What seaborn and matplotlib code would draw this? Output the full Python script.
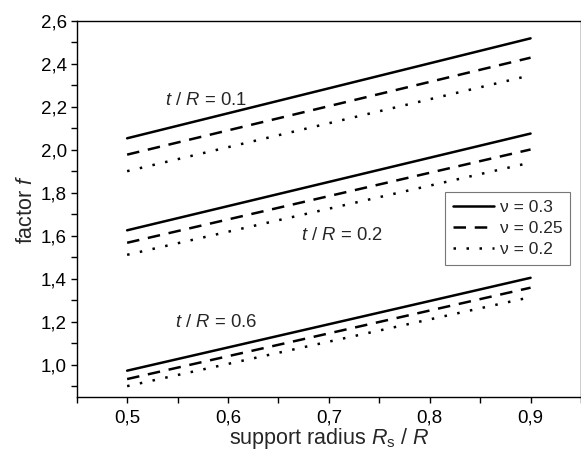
import numpy as np
import pandas as pd
import matplotlib
matplotlib.use("Agg")
import matplotlib.pyplot as plt
import seaborn as sns
from matplotlib.ticker import MultipleLocator, FuncFormatter

# data (values at x = 0.5 and x = 0.9)
x_pts = [0.5, 0.9]
t_over_R = ["0.1", "0.2", "0.6"]
nu_values = ["0.3", "0.25", "0.2"]
f_t01 = {"0.3": [2.053, 2.518], "0.25": [1.977, 2.428], "0.2": [1.900, 2.346]}
f_t02 = {"0.3": [1.625, 2.075], "0.25": [1.567, 2.001], "0.2": [1.511, 1.940]}
f_t06 = {"0.3": [0.972, 1.404], "0.25": [0.933, 1.358], "0.2": [0.900, 1.314]}

rows = []
for tr, tab in zip(t_over_R, [f_t01, f_t02, f_t06]):
    for nu in nu_values:
        for xv, fv in zip(x_pts, tab[nu]):
            rows.append({"x": xv, "f": fv, "tR": tr, "nu": nu})
df = pd.DataFrame(rows)

sns.set_theme(style="ticks")
plt.rcParams["font.family"] = ["Liberation Sans", "DejaVu Sans"]
plt.rcParams["mathtext.fontset"] = "custom"
plt.rcParams["mathtext.rm"] = "Liberation Sans"
plt.rcParams["mathtext.it"] = "Liberation Sans:italic"

fig = plt.figure(figsize=(5.81, 4.5), dpi=100)
ax = fig.add_axes([0.132, 0.118, 0.868, 0.836])

dashes = {"0.3": "", "0.25": (5, 3.5), "0.2": (1, 4.2)}
sns.lineplot(data=df, x="x", y="f", style="nu", units="tR", estimator=None,
             style_order=nu_values, dashes=dashes, color="black", lw=1.8,
             ax=ax, legend=True)

ax.set_xlim(0.45, 0.95)
ax.set_ylim(0.85, 2.6)
ax.xaxis.set_major_locator(MultipleLocator(0.1))
ax.xaxis.set_minor_locator(MultipleLocator(0.05))
ax.yaxis.set_major_locator(MultipleLocator(0.2))
ax.yaxis.set_minor_locator(MultipleLocator(0.1))
fmt = FuncFormatter(lambda v, p: f"{v:.1f}".replace(".", ","))
ax.xaxis.set_major_formatter(fmt)
ax.yaxis.set_major_formatter(fmt)
ax.tick_params(which="both", direction="out", length=4, width=1, colors="black",
               labelsize=13.5, pad=3)
ax.tick_params(axis="x", which="both", pad=5)
for s in ax.spines.values():
    s.set_color("black")
    s.set_linewidth(1.0)

ax.set_xlabel("support radius $\\mathit{R}_\\mathrm{s}$ / $\\mathit{R}$", fontsize=15.5, labelpad=0)
ax.set_ylabel("factor $\\mathit{f}$", fontsize=15.5, labelpad=3)

label_pos = [(0.578, 2.23), (0.713, 1.60), (0.588, 1.197)]
for (lx, ly), tr in zip(label_pos, t_over_R):
    ax.text(lx, ly, f"$\\mathit{{t}}$ / $\\mathit{{R}}$ = {tr}", fontsize=13.3,
            ha="center", va="center")

handles, labels = ax.get_legend_handles_labels()
lab_map = {l: h for h, l in zip(handles, labels)}
hs = [lab_map[n] for n in nu_values]
leg = ax.legend(hs, [f"\u03bd = {n}" for n in nu_values], loc="upper left",
                bbox_to_anchor=((445 - 76.7) / (581 * 0.868), 1 - (192 - 20.7) / (450 * 0.836)),
                borderaxespad=0, frameon=True, fancybox=False, fontsize=12.5,
                handlelength=2.4, handletextpad=0.3, labelspacing=0.35,
                borderpad=0.45, edgecolor="#555555")
leg.get_frame().set_linewidth(0.8)
for h in leg.get_lines():
    h.set_linewidth(1.8)

fig.savefig("out.png", dpi=100)
